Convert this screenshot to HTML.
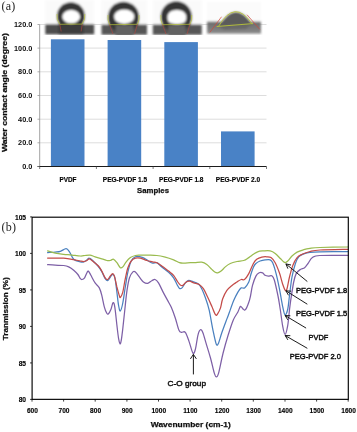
<!DOCTYPE html><html><head><meta charset="utf-8"><title>fig</title>
<style>html,body{margin:0;padding:0;background:#fff;}body{width:357px;height:432px;overflow:hidden;font-family:"Liberation Sans",sans-serif;}svg{display:block;}text{font-family:"Liberation Sans",sans-serif;}.s{font-family:"Liberation Serif",serif;}</style></head><body>
<svg width="357" height="432" viewBox="0 0 357 432">
<defs>
<filter id="b" x="-5%" y="-5%" width="110%" height="110%"><feGaussianBlur stdDeviation="0.35"/></filter>
<filter id="b0" x="-5%" y="-5%" width="110%" height="110%"><feGaussianBlur stdDeviation="0.2"/></filter>
<filter id="b2" x="-10%" y="-10%" width="120%" height="120%"><feGaussianBlur stdDeviation="0.85"/></filter>
<filter id="b3" x="-20%" y="-20%" width="140%" height="140%"><feGaussianBlur stdDeviation="1.3"/></filter>
<linearGradient id="band" x1="0" y1="0" x2="0" y2="1"><stop offset="0" stop-color="#606060"/><stop offset="0.5" stop-color="#525252"/><stop offset="1" stop-color="#5c5c5c"/></linearGradient>
<linearGradient id="band4" x1="0" y1="0" x2="0" y2="1"><stop offset="0" stop-color="#6c6c6c"/><stop offset="0.6" stop-color="#7c7c7c"/><stop offset="1" stop-color="#8e8e8e"/></linearGradient>
</defs>
<rect width="357" height="432" fill="#fff"/>
<g filter="url(#b)">
<!-- panel a -->
<line x1="40" y1="142.8" x2="266.5" y2="142.8" stroke="#cfcfcf" stroke-width="0.7"/>
<line x1="40" y1="119.2" x2="266.5" y2="119.2" stroke="#cfcfcf" stroke-width="0.7"/>
<line x1="40" y1="95.5" x2="266.5" y2="95.5" stroke="#cfcfcf" stroke-width="0.7"/>
<line x1="40" y1="71.8" x2="266.5" y2="71.8" stroke="#cfcfcf" stroke-width="0.7"/>
<line x1="40" y1="48.1" x2="266.5" y2="48.1" stroke="#cfcfcf" stroke-width="0.7"/>
<line x1="40" y1="24.5" x2="266.5" y2="24.5" stroke="#cfcfcf" stroke-width="0.7"/>
<clipPath id="cp"><rect x="40" y="0" width="230" height="35"/></clipPath>
<g filter="url(#b2)" clip-path="url(#cp)">
<rect x="45" y="0" width="49" height="25" fill="#fafafa"/>
<rect x="101.5" y="0" width="45.5" height="25" fill="#fafafa"/>
<rect x="153" y="0" width="49" height="25" fill="#fafafa"/>
<rect x="207" y="2" width="54" height="22" fill="#fbfbfb"/>
<rect x="45.3" y="24.2" width="48.9" height="10.2" fill="#4d4d4d"/>
<rect x="101.5" y="24.5" width="45.5" height="10.3" fill="#565656"/>
<rect x="152.8" y="24.5" width="49" height="10.3" fill="#565656"/>
<rect x="207" y="21.6" width="54" height="12.1" fill="url(#band4)"/>
<rect x="58.5" y="24" width="25" height="10.5" fill="#3d3d3d"/>
<path d="M59.7 24.6 A14 14 0 1 1 82.1 24.6 Z" fill="#363636"/>
<ellipse cx="71.2" cy="16.8" rx="8.9" ry="6.8" fill="#fff"/>
<circle cx="123.5" cy="17.4" r="15.7" fill="#363636"/>
<rect x="115.6" y="25" width="17.8" height="11" fill="#626262"/>
<ellipse cx="124.2" cy="16.7" rx="10.1" ry="7.2" fill="#fff"/>
<circle cx="176.3" cy="16.8" r="15.6" fill="#363636"/>
<rect x="168.3" y="25" width="17.2" height="11" fill="#626262"/>
<path d="M167.4 18 Q167.4 10 176.9 10 Q186.3 10 186.3 18 Q186.3 24.2 176.9 24.2 Q167.4 24.2 167.4 18Z" fill="#fff"/>
<path d="M218.6 26.3 Q234.8 -1.6 252 23.8 Z" fill="#5a5a5a"/>
<path d="M218.6 26.6 L252 24 L246 29 L224 30 Z" fill="#686868"/>
</g>
<g fill="none" stroke-width="0.7">
<path d="M57 14 A14 14 0 0 0 59.7 24.3 L82.1 24.1 A14 14 0 0 0 84.8 14" stroke="#b9c437"/>
<path d="M59.8 24.5 L61.2 31.5 M82.2 24.5 L81.1 31.5" stroke="#b8463c" stroke-opacity="0.85"/>
<path d="M108 15 A15.7 15.7 0 0 0 109.6 24.7 L137.4 24.3 A15.7 15.7 0 0 0 139 15" stroke="#b9c437"/>
<path d="M109.6 24.7 L113 34 M137.4 24.3 L134.5 34" stroke="#b8463c" stroke-opacity="0.85"/>
<path d="M160.9 15 A15.6 15.6 0 0 0 162.6 24.7 L190 24.3 A15.6 15.6 0 0 0 191.7 15" stroke="#b9c437"/>
<path d="M162.6 24.7 L166 34 M190 24.3 L187 34" stroke="#b8463c" stroke-opacity="0.85"/>
<path d="M218.6 26.3 Q234.8 -1.6 252 23.8 M216.7 26.5 L253 23.6" stroke="#b9c437" stroke-width="0.9"/>
<path d="M209.8 32.4 L221.6 16.7 M247 14.7 L259.8 29.4" stroke="#d0473a"/>
</g>
<rect x="50.9" y="39.3" width="33.6" height="127.2" fill="#4a82c6"/>
<rect x="107.6" y="40.0" width="33.6" height="126.5" fill="#4a82c6"/>
<rect x="164.3" y="42.1" width="33.6" height="124.4" fill="#4a82c6"/>
<rect x="221.0" y="131.4" width="33.6" height="35.1" fill="#4a82c6"/>
<line x1="39.7" y1="24.5" x2="39.7" y2="166.5" stroke="#8a8a8a" stroke-width="0.8"/>
<line x1="37.5" y1="166.5" x2="266.5" y2="166.5" stroke="#1a1a1a" stroke-width="1.1"/>
<line x1="37.5" y1="166.5" x2="39.7" y2="166.5" stroke="#8a8a8a" stroke-width="0.7"/>
<line x1="37.5" y1="142.8" x2="39.7" y2="142.8" stroke="#8a8a8a" stroke-width="0.7"/>
<line x1="37.5" y1="119.2" x2="39.7" y2="119.2" stroke="#8a8a8a" stroke-width="0.7"/>
<line x1="37.5" y1="95.5" x2="39.7" y2="95.5" stroke="#8a8a8a" stroke-width="0.7"/>
<line x1="37.5" y1="71.8" x2="39.7" y2="71.8" stroke="#8a8a8a" stroke-width="0.7"/>
<line x1="37.5" y1="48.1" x2="39.7" y2="48.1" stroke="#8a8a8a" stroke-width="0.7"/>
<line x1="37.5" y1="24.5" x2="39.7" y2="24.5" stroke="#8a8a8a" stroke-width="0.7"/>
<line x1="39.7" y1="166.5" x2="39.7" y2="169" stroke="#444" stroke-width="0.7"/>
<line x1="96.4" y1="166.5" x2="96.4" y2="169" stroke="#444" stroke-width="0.7"/>
<line x1="153.1" y1="166.5" x2="153.1" y2="169" stroke="#444" stroke-width="0.7"/>
<line x1="209.8" y1="166.5" x2="209.8" y2="169" stroke="#444" stroke-width="0.7"/>
<line x1="266.5" y1="166.5" x2="266.5" y2="169" stroke="#444" stroke-width="0.7"/>
<text x="32.3" y="169.0" text-anchor="end" font-size="7.3" font-weight="bold" fill="#111">0.0</text>
<text x="32.3" y="145.3" text-anchor="end" font-size="7.3" font-weight="bold" fill="#111">20.0</text>
<text x="32.3" y="121.7" text-anchor="end" font-size="7.3" font-weight="bold" fill="#111">40.0</text>
<text x="32.3" y="98.0" text-anchor="end" font-size="7.3" font-weight="bold" fill="#111">60.0</text>
<text x="32.3" y="74.3" text-anchor="end" font-size="7.3" font-weight="bold" fill="#111">80.0</text>
<text x="32.3" y="50.6" text-anchor="end" font-size="7.3" font-weight="bold" fill="#111">100.0</text>
<text x="32.3" y="27.0" text-anchor="end" font-size="7.3" font-weight="bold" fill="#111">120.0</text>
<text x="67.9" y="181.8" text-anchor="middle" font-size="6.5" font-weight="bold" fill="#000" stroke="#000" stroke-width="0.15" textLength="17.0" lengthAdjust="spacingAndGlyphs">PVDF</text>
<text x="125.0" y="181.8" text-anchor="middle" font-size="6.5" font-weight="bold" fill="#000" stroke="#000" stroke-width="0.15" textLength="44.4" lengthAdjust="spacingAndGlyphs">PEG-PVDF 1.5</text>
<text x="181.3" y="181.8" text-anchor="middle" font-size="6.5" font-weight="bold" fill="#000" stroke="#000" stroke-width="0.15" textLength="44.4" lengthAdjust="spacingAndGlyphs">PEG-PVDF 1.8</text>
<text x="238.0" y="181.8" text-anchor="middle" font-size="6.5" font-weight="bold" fill="#000" stroke="#000" stroke-width="0.15" textLength="44.4" lengthAdjust="spacingAndGlyphs">PEG-PVDF 2.0</text>
<text x="153" y="193" text-anchor="middle" font-size="7.8" font-weight="bold" fill="#111" stroke="#111" stroke-width="0.25" textLength="32" lengthAdjust="spacingAndGlyphs">Samples</text>
<text transform="translate(7.4,92.6) rotate(-90)" text-anchor="middle" font-size="7.5" font-weight="bold" fill="#111" stroke="#111" stroke-width="0.25" textLength="119" lengthAdjust="spacingAndGlyphs">Water contact angle (degree)</text>
<text class="s" x="1.4" y="10.3" font-size="12" letter-spacing="0.3" fill="#222" style="font-family:'Liberation Serif',serif">(a)</text>
<!-- panel b -->
<line x1="30" y1="399.4" x2="32" y2="399.4" stroke="#111" stroke-width="0.8"/>
<line x1="30" y1="362.9" x2="32" y2="362.9" stroke="#111" stroke-width="0.8"/>
<line x1="30" y1="326.4" x2="32" y2="326.4" stroke="#111" stroke-width="0.8"/>
<line x1="30" y1="289.9" x2="32" y2="289.9" stroke="#111" stroke-width="0.8"/>
<line x1="30" y1="253.4" x2="32" y2="253.4" stroke="#111" stroke-width="0.8"/>
<line x1="30" y1="216.9" x2="32" y2="216.9" stroke="#111" stroke-width="0.8"/>
<line x1="32.0" y1="399.4" x2="32.0" y2="401.6" stroke="#111" stroke-width="0.8"/>
<line x1="63.6" y1="399.4" x2="63.6" y2="401.6" stroke="#111" stroke-width="0.8"/>
<line x1="95.2" y1="399.4" x2="95.2" y2="401.6" stroke="#111" stroke-width="0.8"/>
<line x1="126.9" y1="399.4" x2="126.9" y2="401.6" stroke="#111" stroke-width="0.8"/>
<line x1="158.5" y1="399.4" x2="158.5" y2="401.6" stroke="#111" stroke-width="0.8"/>
<line x1="190.1" y1="399.4" x2="190.1" y2="401.6" stroke="#111" stroke-width="0.8"/>
<line x1="221.7" y1="399.4" x2="221.7" y2="401.6" stroke="#111" stroke-width="0.8"/>
<line x1="253.3" y1="399.4" x2="253.3" y2="401.6" stroke="#111" stroke-width="0.8"/>
<line x1="285.0" y1="399.4" x2="285.0" y2="401.6" stroke="#111" stroke-width="0.8"/>
<line x1="316.6" y1="399.4" x2="316.6" y2="401.6" stroke="#111" stroke-width="0.8"/>
<line x1="348.2" y1="399.4" x2="348.2" y2="401.6" stroke="#111" stroke-width="0.8"/>
<text x="26.1" y="402.0" text-anchor="end" font-size="6.7" font-weight="bold" fill="#000" stroke="#000" stroke-width="0.12">80</text>
<text x="26.1" y="365.5" text-anchor="end" font-size="6.7" font-weight="bold" fill="#000" stroke="#000" stroke-width="0.12">85</text>
<text x="26.1" y="329.0" text-anchor="end" font-size="6.7" font-weight="bold" fill="#000" stroke="#000" stroke-width="0.12">90</text>
<text x="26.1" y="292.5" text-anchor="end" font-size="6.7" font-weight="bold" fill="#000" stroke="#000" stroke-width="0.12">95</text>
<text x="26.1" y="256.0" text-anchor="end" font-size="6.7" font-weight="bold" fill="#000" stroke="#000" stroke-width="0.12">100</text>
<text x="26.1" y="219.5" text-anchor="end" font-size="6.7" font-weight="bold" fill="#000" stroke="#000" stroke-width="0.12">105</text>
<text x="32.4" y="413" text-anchor="middle" font-size="6.6" font-weight="bold" fill="#000" stroke="#000" stroke-width="0.12">600</text>
<text x="64.0" y="413" text-anchor="middle" font-size="6.6" font-weight="bold" fill="#000" stroke="#000" stroke-width="0.12">700</text>
<text x="95.6" y="413" text-anchor="middle" font-size="6.6" font-weight="bold" fill="#000" stroke="#000" stroke-width="0.12">800</text>
<text x="127.2" y="413" text-anchor="middle" font-size="6.6" font-weight="bold" fill="#000" stroke="#000" stroke-width="0.12">900</text>
<text x="158.8" y="413" text-anchor="middle" font-size="6.6" font-weight="bold" fill="#000" stroke="#000" stroke-width="0.12">1000</text>
<text x="190.4" y="413" text-anchor="middle" font-size="6.6" font-weight="bold" fill="#000" stroke="#000" stroke-width="0.12">1100</text>
<text x="222.1" y="413" text-anchor="middle" font-size="6.6" font-weight="bold" fill="#000" stroke="#000" stroke-width="0.12">1200</text>
<text x="253.7" y="413" text-anchor="middle" font-size="6.6" font-weight="bold" fill="#000" stroke="#000" stroke-width="0.12">1300</text>
<text x="285.3" y="413" text-anchor="middle" font-size="6.6" font-weight="bold" fill="#000" stroke="#000" stroke-width="0.12">1400</text>
<text x="316.9" y="413" text-anchor="middle" font-size="6.6" font-weight="bold" fill="#000" stroke="#000" stroke-width="0.12">1500</text>
<text x="348.6" y="413" text-anchor="middle" font-size="6.6" font-weight="bold" fill="#000" stroke="#000" stroke-width="0.12">1600</text>
<text x="190.8" y="427.3" text-anchor="middle" font-size="8" font-weight="bold" fill="#111" stroke="#111" stroke-width="0.25" textLength="80" lengthAdjust="spacingAndGlyphs">Wavenumber (cm-1)</text>
<text transform="translate(7.7,308.7) rotate(-90)" text-anchor="middle" font-size="7.8" font-weight="bold" fill="#111" stroke="#111" stroke-width="0.25" textLength="63" lengthAdjust="spacingAndGlyphs">Tranmission (%)</text>
<text x="1.4" y="231" font-size="12" letter-spacing="0.3" fill="#222" style="font-family:'Liberation Serif',serif">(b)</text>
<path d="M47.6 264.7C48.9 264.8 52.5 265.1 55.2 265.2C57.9 265.3 61.4 265.2 63.6 265.5C65.8 265.8 67.0 266.1 68.7 266.9C70.4 267.7 72.2 269.0 73.7 270.3C75.2 271.6 76.8 273.1 77.9 274.5C79.0 275.9 79.7 277.9 80.4 278.7C81.1 279.5 81.4 279.6 82.1 279.5C82.8 279.4 83.8 278.9 84.6 277.8C85.4 276.7 86.2 274.1 86.8 273.0C87.4 271.9 87.7 270.7 88.4 271.1C89.1 271.5 89.8 273.3 90.9 275.3C92.0 277.3 93.7 280.8 95.1 282.9C96.5 285.0 98.2 285.8 99.3 287.9C100.4 290.0 101.0 292.1 101.8 295.3C102.6 298.5 103.5 303.8 104.3 306.8C105.1 309.8 106.1 312.0 106.8 313.2C107.5 314.4 107.8 314.4 108.5 313.8C109.2 313.2 110.2 311.2 111.0 309.3C111.8 307.4 112.4 302.9 113.1 302.6C113.8 302.3 114.3 303.8 114.9 307.6C115.5 311.4 116.3 320.1 116.9 325.3C117.5 330.5 118.1 335.6 118.6 338.7C119.1 341.8 119.6 343.3 120.0 343.7C120.4 344.1 120.6 343.7 121.1 341.2C121.6 338.7 122.1 334.6 122.8 328.6C123.5 322.6 124.6 311.5 125.3 305.1C126.0 298.7 126.3 294.9 127.0 290.4C127.7 285.8 128.5 280.9 129.5 277.8C130.5 274.7 131.9 272.9 132.9 271.9C133.9 270.9 134.2 270.9 135.4 271.9C136.6 272.9 138.7 276.1 140.0 277.8C141.3 279.5 142.1 281.1 143.4 282.0C144.7 282.9 146.2 283.6 147.6 283.4C149.0 283.2 150.6 281.3 151.8 280.7C153.1 280.1 154.0 279.1 155.1 279.5C156.2 279.9 157.1 280.7 158.5 282.9C159.9 285.1 161.8 289.7 163.5 292.9C165.2 296.1 167.3 299.8 168.6 302.2C169.9 304.6 170.3 305.0 171.4 307.6C172.5 310.2 173.9 313.9 175.2 317.7C176.5 321.5 177.9 327.9 179.0 330.3C180.1 332.7 180.4 332.0 181.5 332.3C182.6 332.6 184.0 330.8 185.3 332.3C186.6 333.9 187.8 338.2 189.1 341.6C190.4 345.1 191.8 351.7 192.9 353.0C194.0 354.3 194.6 352.1 195.4 349.2C196.2 346.2 197.1 338.5 197.9 335.3C198.7 332.1 199.6 330.2 200.4 329.8C201.2 329.4 201.9 330.2 202.9 332.8C203.9 335.4 205.4 341.2 206.7 345.4C208.0 349.6 209.2 353.4 210.5 358.0C211.8 362.6 213.3 370.0 214.3 373.1C215.3 376.2 215.6 376.9 216.3 376.9C217.0 376.9 217.5 377.1 218.6 373.1C219.7 369.1 221.5 359.3 223.1 353.0C224.7 346.7 226.4 340.8 228.1 335.3C229.8 329.8 231.6 324.1 233.2 320.2C234.8 316.3 236.7 314.3 237.9 312.0C239.1 309.7 239.6 306.9 240.4 306.4C241.2 305.9 242.1 308.3 242.9 308.9C243.7 309.4 244.4 310.8 245.4 309.7C246.4 308.6 248.0 304.5 248.8 302.2C249.7 299.9 249.9 298.8 250.5 296.0C251.1 293.2 251.6 288.7 252.5 285.4C253.4 282.1 254.8 278.2 255.9 276.1C257.0 274.0 258.1 273.4 259.2 272.8C260.3 272.2 261.6 272.4 262.6 272.8C263.6 273.2 264.1 274.8 265.1 275.3C266.1 275.9 267.4 276.0 268.5 276.1C269.6 276.2 270.8 275.1 271.8 275.8C272.8 276.5 273.4 276.9 274.4 280.3C275.4 283.7 277.0 291.2 278.0 296.0C279.0 300.8 279.4 304.1 280.2 309.0C281.0 313.9 281.8 321.4 282.6 325.6C283.4 329.8 284.2 334.4 285.1 334.4C286.0 334.4 286.9 330.0 287.7 325.6C288.5 321.2 289.1 312.8 289.7 308.0C290.3 303.2 290.5 301.4 291.2 297.1C291.9 292.8 292.9 285.9 293.7 282.0C294.5 278.1 295.1 275.7 296.2 273.6C297.3 271.5 299.0 270.4 300.4 269.4C301.8 268.4 303.3 268.7 304.6 267.7C305.9 266.7 306.7 265.2 308.0 263.5C309.3 261.8 310.4 258.9 312.4 257.6C314.4 256.3 314.0 255.9 319.9 255.5C325.8 255.1 343.1 255.4 347.7 255.4" fill="none" stroke="#7d5fa6" stroke-width="1.25" stroke-linejoin="round" stroke-linecap="round"/>
<path d="M47.6 252.6C48.9 252.5 53.1 252.3 55.2 252.1C57.3 251.9 58.5 252.0 60.3 251.4C62.1 250.8 64.6 248.6 66.1 248.7C67.6 248.8 68.2 250.0 69.5 251.8C70.8 253.6 71.9 257.6 73.7 259.3C75.5 261.0 78.7 261.4 80.4 261.8C82.1 262.2 82.8 262.1 83.8 261.8C84.8 261.5 85.6 260.8 86.5 260.2C87.4 259.6 88.2 258.1 89.2 258.2C90.2 258.2 91.1 259.1 92.6 260.5C94.1 261.9 96.9 264.6 98.4 266.5C99.9 268.4 100.7 269.6 101.8 271.6C102.9 273.6 104.2 277.2 105.2 278.7C106.2 280.2 106.9 280.9 107.7 280.7C108.5 280.5 109.4 278.3 110.2 277.3C111.0 276.3 111.9 274.4 112.7 274.5C113.5 274.6 114.2 274.9 114.9 277.8C115.6 280.7 116.3 287.5 116.9 292.1C117.5 296.7 118.0 302.4 118.6 305.5C119.2 308.6 119.6 311.4 120.3 311.0C121.0 310.6 122.0 307.0 122.8 303.0C123.6 299.0 124.4 292.2 125.3 287.0C126.2 281.8 126.9 276.2 127.9 271.9C128.9 267.6 129.9 263.5 131.2 261.0C132.4 258.5 133.8 257.5 135.4 256.8C137.0 256.1 139.0 256.6 140.5 256.8C142.0 257.0 142.9 257.5 144.2 258.2C145.5 258.9 147.0 260.2 148.4 261.0C149.8 261.8 151.2 262.9 152.6 263.2C154.0 263.5 155.3 262.1 156.8 262.7C158.3 263.3 159.8 265.3 161.8 266.9C163.8 268.5 166.6 270.5 168.6 272.3C170.6 274.1 172.2 275.8 173.6 277.8C175.0 279.8 176.0 282.7 177.0 284.5C178.0 286.3 178.7 287.8 179.5 288.4C180.3 289.0 181.0 288.8 182.0 287.9C183.0 287.0 184.3 284.2 185.4 282.9C186.5 281.6 187.4 280.5 188.7 280.3C189.9 280.1 191.3 281.1 192.9 281.7C194.5 282.3 196.9 282.8 198.4 284.0C199.9 285.2 200.5 286.4 201.7 288.7C202.9 291.0 204.2 294.4 205.5 298.0C206.8 301.6 207.9 304.7 209.2 310.1C210.4 315.5 211.8 324.6 213.0 330.3C214.2 336.0 215.4 342.1 216.3 344.2C217.2 346.3 217.7 344.8 218.6 342.9C219.5 341.0 220.4 336.8 221.8 332.8C223.2 328.8 225.6 322.4 226.9 318.9C228.2 315.4 228.4 315.1 229.5 312.0C230.6 308.9 232.3 303.8 233.7 300.5C235.1 297.2 236.7 294.2 237.9 292.1C239.2 290.0 240.1 288.6 241.2 287.9C242.3 287.2 243.3 288.9 244.6 287.9C245.9 286.9 247.7 284.3 248.8 282.0C249.9 279.7 250.2 276.5 251.0 274.0C251.8 271.5 252.7 268.8 253.5 267.0C254.3 265.2 254.8 264.5 255.9 263.5C257.0 262.5 258.6 261.6 260.1 261.0C261.6 260.4 263.4 260.0 265.1 259.8C266.8 259.6 268.9 259.3 270.2 259.8C271.5 260.3 271.7 260.4 272.7 262.7C273.7 265.0 275.0 269.3 276.1 273.6C277.2 277.9 278.3 283.1 279.4 288.7C280.5 294.3 281.9 302.8 282.8 307.2C283.8 311.6 284.3 314.7 285.1 315.0C285.9 315.3 287.1 312.2 287.8 309.0C288.5 305.8 288.8 300.8 289.5 295.5C290.2 290.2 291.0 282.3 292.0 277.0C293.0 271.7 294.3 266.9 295.4 263.5C296.5 260.1 297.3 258.4 298.7 256.8C300.1 255.2 301.9 254.6 303.8 253.8C305.7 253.1 307.3 252.6 310.0 252.3C312.7 252.0 313.7 251.9 320.0 251.8C326.3 251.7 343.1 251.6 347.7 251.6" fill="none" stroke="#4a80bf" stroke-width="1.25" stroke-linejoin="round" stroke-linecap="round"/>
<path d="M47.6 258.0C48.9 258.0 52.5 258.2 55.2 258.2C57.9 258.2 60.8 258.0 63.6 258.2C66.4 258.4 69.2 258.8 72.0 259.3C74.8 259.8 78.4 260.6 80.4 261.0C82.4 261.4 82.8 261.5 83.8 261.5C84.8 261.5 85.6 261.2 86.5 260.8C87.4 260.4 88.2 258.8 89.2 258.8C90.2 258.8 91.1 259.8 92.6 261.0C94.1 262.2 96.9 264.3 98.4 266.0C99.9 267.7 100.7 269.1 101.8 271.1C102.9 273.1 104.2 276.4 105.2 277.8C106.2 279.2 106.9 279.8 107.7 279.5C108.5 279.2 109.4 277.1 110.2 276.1C111.0 275.1 112.0 273.6 112.7 273.6C113.4 273.6 113.7 273.9 114.4 276.1C115.1 278.3 116.1 283.6 116.9 287.0C117.8 290.4 118.9 294.6 119.5 296.3C120.1 298.0 120.0 297.8 120.6 297.1C121.1 296.4 122.0 295.2 122.8 292.1C123.6 289.0 124.4 282.8 125.3 278.7C126.2 274.6 126.9 270.6 127.9 267.7C128.9 264.8 129.9 262.6 131.2 261.0C132.4 259.4 133.8 258.7 135.4 258.2C137.0 257.7 138.6 257.8 140.5 258.2C142.4 258.6 144.7 259.9 146.7 260.5C148.7 261.1 150.9 261.4 152.6 261.8C154.3 262.2 155.3 262.0 156.8 262.7C158.3 263.4 159.8 264.6 161.8 266.0C163.8 267.4 166.6 269.6 168.6 271.1C170.6 272.7 172.1 273.5 173.6 275.3C175.1 277.1 176.7 280.4 177.8 282.0C178.9 283.6 179.5 284.4 180.3 285.0C181.2 285.6 181.9 285.9 182.9 285.4C183.9 284.9 185.1 282.7 186.2 282.0C187.3 281.3 188.3 281.1 189.6 281.2C190.9 281.3 192.2 282.3 193.8 282.9C195.4 283.4 197.6 283.5 199.2 284.5C200.8 285.5 202.0 286.6 203.4 288.7C204.8 290.8 206.2 294.2 207.6 297.1C209.0 300.0 210.5 303.4 211.8 306.3C213.1 309.2 214.5 313.4 215.5 314.7C216.5 316.0 216.8 315.1 217.6 313.9C218.4 312.7 219.8 310.1 220.6 307.6C221.4 305.1 221.6 301.7 222.7 298.8C223.8 295.9 225.3 292.6 226.9 290.4C228.5 288.2 230.3 286.8 232.0 285.4C233.7 284.0 235.5 283.0 237.0 282.0C238.5 281.0 239.9 279.9 241.2 279.5C242.4 279.1 243.2 280.5 244.5 279.5C245.8 278.5 247.3 276.3 248.8 273.6C250.3 270.9 252.1 265.9 253.4 263.5C254.7 261.1 255.3 260.4 256.7 259.3C258.1 258.2 260.1 257.5 261.8 257.1C263.5 256.7 265.3 256.7 266.8 256.8C268.3 256.9 269.6 256.6 271.0 257.6C272.4 258.6 273.8 260.2 275.2 262.7C276.6 265.2 278.1 269.2 279.4 272.8C280.7 276.4 281.8 281.6 282.8 284.5C283.8 287.4 284.6 289.7 285.3 290.4C286.0 291.1 286.3 290.9 287.0 288.7C287.7 286.5 288.5 280.9 289.5 277.0C290.5 273.1 291.6 268.4 292.9 265.2C294.2 262.0 295.6 259.4 297.1 257.6C298.6 255.8 300.0 255.3 302.1 254.3C304.2 253.3 307.0 252.2 310.0 251.5C313.0 250.8 313.7 250.4 320.0 250.0C326.3 249.6 343.1 249.4 347.7 249.3" fill="none" stroke="#c44b48" stroke-width="1.25" stroke-linejoin="round" stroke-linecap="round"/>
<path d="M47.6 250.9C48.9 251.3 52.5 252.5 55.2 253.1C57.9 253.7 60.8 254.0 63.6 254.3C66.4 254.6 69.2 254.8 72.0 255.1C74.8 255.4 78.2 255.9 80.4 256.0C82.6 256.1 83.4 255.7 85.0 255.5C86.6 255.3 88.3 254.9 90.0 255.1C91.7 255.3 93.1 256.2 95.1 256.8C97.1 257.4 99.8 258.2 101.8 258.8C103.8 259.4 105.4 260.2 106.8 260.5C108.2 260.8 109.1 260.7 110.2 260.5C111.3 260.3 112.5 258.9 113.6 259.3C114.7 259.7 115.8 261.3 116.9 262.7C118.0 264.1 119.3 267.0 120.3 267.7C121.3 268.4 121.8 267.9 122.8 266.9C123.8 265.9 124.9 263.4 126.2 261.8C127.5 260.2 128.9 258.7 130.4 257.6C131.9 256.6 133.8 255.9 135.4 255.5C137.0 255.1 137.8 255.2 140.0 255.1C142.2 255.0 145.6 255.0 148.4 255.1C151.2 255.2 154.0 255.2 156.8 255.5C159.6 255.8 162.4 256.4 165.2 257.1C168.0 257.8 171.2 258.9 173.6 259.8C176.0 260.7 177.8 262.1 179.5 262.7C181.2 263.3 181.9 263.2 183.7 263.2C185.5 263.2 188.5 262.8 190.4 262.7C192.3 262.6 193.1 262.8 195.0 262.7C196.9 262.6 199.7 261.9 201.7 262.2C203.7 262.5 205.1 263.2 206.8 264.4C208.5 265.6 210.4 268.1 211.8 269.4C213.2 270.7 214.2 271.7 215.2 272.3C216.2 272.9 216.7 273.0 217.7 272.8C218.7 272.6 219.8 272.1 221.1 271.1C222.4 270.1 223.8 268.2 225.3 266.9C226.8 265.6 228.4 264.4 230.3 263.5C232.2 262.6 234.8 262.0 237.0 261.5C239.2 261.0 241.7 261.1 243.7 260.5C245.7 259.9 247.2 258.6 248.8 257.6C250.4 256.6 251.9 255.3 253.4 254.3C254.9 253.3 255.9 252.4 257.6 251.8C259.3 251.2 261.3 251.1 263.4 250.9C265.5 250.8 268.2 250.5 270.2 250.9C272.2 251.3 273.5 252.1 275.2 253.4C276.9 254.7 278.9 257.1 280.3 258.5C281.7 259.9 282.8 261.1 283.6 261.8C284.4 262.5 284.6 262.8 285.3 262.7C286.0 262.6 286.7 262.1 287.8 261.0C288.9 259.9 290.4 257.5 292.0 256.0C293.6 254.5 295.1 253.2 297.1 252.1C299.1 251.0 301.7 250.3 303.8 249.7C305.9 249.1 307.3 248.8 310.0 248.4C312.7 248.0 313.7 247.7 320.0 247.5C326.3 247.3 343.1 247.1 347.7 247.0" fill="none" stroke="#9abb4f" stroke-width="1.25" stroke-linejoin="round" stroke-linecap="round"/>
<path d="M307.3 281.5 L285.9 263.9 M291.0 265.0 L285.9 263.9 L287.9 268.7" fill="none" stroke="#111" stroke-width="0.95"/>
<path d="M307.3 304.2 L285.9 290.8 M291.1 291.2 L285.9 290.8 L288.5 295.3" fill="none" stroke="#111" stroke-width="0.95"/>
<path d="M306.1 328.1 L285.1 315.5 M290.3 315.8 L285.1 315.5 L287.8 319.9" fill="none" stroke="#111" stroke-width="0.95"/>
<path d="M307.3 348.3 L285.1 335.5 M290.3 335.7 L285.1 335.5 L287.9 339.9" fill="none" stroke="#111" stroke-width="0.95"/>
<path d="M193.4 374.4 L193.4 354.4 M196.4 358.9 L193.4 354.4 L190.4 358.9" fill="none" stroke="#111" stroke-width="0.95"/>
<text x="296.0" y="293.4" font-size="7.9" fill="#0a0a0a" stroke="#0a0a0a" stroke-width="0.42" textLength="51.2" lengthAdjust="spacingAndGlyphs">PEG-PVDF 1.8</text>
<text x="296.0" y="315.6" font-size="7.9" fill="#0a0a0a" stroke="#0a0a0a" stroke-width="0.42" textLength="51.2" lengthAdjust="spacingAndGlyphs">PEG-PVDF 1.5</text>
<text x="308.6" y="339.8" font-size="7.9" fill="#0a0a0a" stroke="#0a0a0a" stroke-width="0.42" textLength="19.8" lengthAdjust="spacingAndGlyphs">PVDF</text>
<text x="289.7" y="359.4" font-size="7.9" fill="#0a0a0a" stroke="#0a0a0a" stroke-width="0.42" textLength="51.2" lengthAdjust="spacingAndGlyphs">PEG-PVDF 2.0</text>
<text x="167.6" y="385.7" font-size="7.9" fill="#0a0a0a" stroke="#0a0a0a" stroke-width="0.42" textLength="38.4" lengthAdjust="spacingAndGlyphs">C-O group</text>
</g>
<g filter="url(#b0)"><rect x="32.1" y="217.2" width="316.2" height="182.15" fill="none" stroke="#000" stroke-width="1.15"/></g>
</svg></body></html>
